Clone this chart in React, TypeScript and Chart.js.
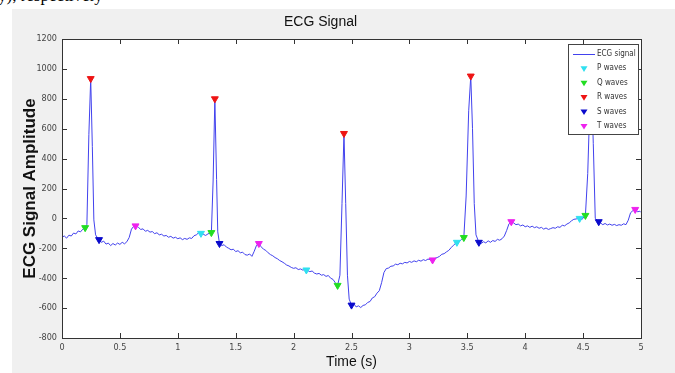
import React, { useEffect, useRef } from "react";
import { Chart, registerables } from "chart.js";

Chart.register(...registerables);

// ECG trace (time in s, amplitude)
const ecgTime = [
  0.00, 0.02, 0.04, 0.06, 0.08, 0.10, 0.12, 0.14, 0.16, 0.18, 0.20, 0.215, 0.232, 0.248, 0.262, 0.275, 0.29, 0.31, 0.32,
  0.34, 0.36, 0.38, 0.40, 0.42, 0.44, 0.46, 0.48, 0.50, 0.52, 0.54, 0.56, 0.58, 0.60, 0.62, 0.64, 0.66, 0.68, 0.70,
  0.72, 0.74, 0.76, 0.78, 0.80, 0.82, 0.84, 0.86, 0.88, 0.90, 0.92, 0.94, 0.96, 0.98, 1.00, 1.02, 1.04, 1.06, 1.08,
  1.10, 1.12, 1.14, 1.16, 1.18, 1.20, 1.22, 1.24, 1.26, 1.28, 1.29, 1.305, 1.32, 1.335, 1.345, 1.36, 1.38, 1.40,
  1.42, 1.44, 1.46, 1.48, 1.50, 1.52, 1.54, 1.56, 1.58, 1.60, 1.62, 1.64, 1.66, 1.68, 1.70, 1.72, 1.74, 1.76, 1.78,
  1.80, 1.82, 1.84, 1.86, 1.88, 1.90, 1.92, 1.94, 1.96, 1.98, 2.00, 2.02, 2.04, 2.06, 2.08, 2.10, 2.12, 2.14, 2.16,
  2.18, 2.20, 2.22, 2.24, 2.26, 2.28, 2.30, 2.32, 2.34, 2.36, 2.38, 2.40, 2.418, 2.435, 2.45, 2.465, 2.48, 2.50,
  2.52, 2.54, 2.56, 2.58, 2.60, 2.62, 2.64, 2.66, 2.68, 2.70, 2.72, 2.74, 2.76, 2.78, 2.80, 2.82, 2.84, 2.86, 2.88,
  2.90, 2.92, 2.94, 2.96, 2.98, 3.00, 3.02, 3.04, 3.06, 3.08, 3.10, 3.12, 3.14, 3.16, 3.18, 3.20, 3.22, 3.24, 3.26,
  3.28, 3.30, 3.32, 3.34, 3.36, 3.38, 3.40, 3.41, 3.43, 3.45, 3.47, 3.49, 3.512, 3.53, 3.545, 3.56, 3.575, 3.60,
  3.62, 3.64, 3.66, 3.68, 3.70, 3.72, 3.74, 3.76, 3.78, 3.80, 3.82, 3.84, 3.86, 3.88, 3.90, 3.92, 3.94, 3.96, 3.98,
  4.00, 4.02, 4.04, 4.06, 4.08, 4.10, 4.12, 4.14, 4.16, 4.18, 4.20, 4.22, 4.24, 4.26, 4.28, 4.30, 4.32, 4.34, 4.36,
  4.38, 4.40, 4.42, 4.44, 4.46, 4.47, 4.49, 4.51, 4.52, 4.54, 4.558, 4.572, 4.588, 4.605, 4.635, 4.65, 4.67, 4.69,
  4.71, 4.73, 4.75, 4.77, 4.79, 4.81, 4.83, 4.85, 4.87, 4.89, 4.91, 4.93, 4.95, 4.97, 4.99, 5.00,
];
const ecgAmp = [
  -125, -118, -132, -112, -118, -98, -104, -84, -90, -72, -62, -40, 560, 935, 480, -10, -110, -135, -142,
  -160, -152, -172, -165, -182, -168, -178, -165, -174, -160, -170, -156, -128, -72, -52, -48, -60, -74, -70,
  -86, -80, -92, -88, -102, -96, -110, -106, -118, -114, -126, -120, -132, -126, -136, -130, -142, -134, -140,
  -130, -134, -116, -110, -96, -100, -106, -114, -104, -96, -95, 250, 800, 260, -90, -168, -182, -176,
  -192, -200, -210, -206, -222, -216, -230, -226, -242, -246, -238, -254, -220, -180, -168, -190, -206, -214, -230,
  -242, -250, -262, -270, -282, -290, -300, -312, -318, -328, -334, -330, -342, -338, -346, -340, -348, -356, -352,
  -366, -372, -368, -380, -376, -388, -382, -400, -408, -430, -448, -380, 100, 568, 100, -380, -540, -580,
  -572, -592, -585, -596, -582, -578, -562, -556, -532, -524, -500, -484, -430, -362, -336, -332, -320, -318, -306,
  -310, -300, -304, -294, -298, -288, -294, -284, -290, -280, -286, -276, -282, -272, -276, -278, -268, -262, -254,
  -240, -236, -224, -214, -196, -180, -166, -160, -156, -140, -128, 150, 720, 952, 600, 100, -110, -160,
  -168, -156, -164, -150, -160, -148, -154, -140, -146, -136, -118, -80, -36, -22, -30, -42, -38, -50, -44,
  -56, -50, -60, -52, -62, -56, -66, -60, -72, -64, -74, -68, -62, -66, -56, -60, -46, -50, -38,
  -30, -16, -6, -4, 2, 0, -8, 14, 20, 300, 760, 900, 500, 0, -22, -30, -42, -34,
  -44, -38, -46, -40, -48, -42, -46, -36, -42, -12, 38, 52, 60, 44, 48, 40,
];

// Detected wave markers
const pTime = [1.20, 2.11, 3.41, 4.47];
const pAmp = [-100, -345, -160, 0];
const qTime = [0.20, 1.29, 2.38, 3.47, 4.52];
const qAmp = [-62, -95, -448, -128, 20];
const rTime = [0.248, 1.32, 2.435, 3.53, 4.572];
const rAmp = [935, 800, 568, 952, 900];
const sTime = [0.32, 1.36, 2.50, 3.60, 4.635];
const sAmp = [-142, -168, -580, -160, -22];
const tTime = [0.635, 1.70, 3.20, 3.88, 4.95];
const tAmp = [-50, -168, -278, -22, 60];

const legendLabels = ["ECG signal", "P waves", "Q waves", "R waves", "S waves", "T waves"];
const lineColor = "#4242ee";
const markerColors = ["#30e0f0", "#22dd22", "#ee1414", "#0a0acc", "#ee22ee"];

const smallFont = "'Liberation Sans Narrow', 'DejaVu Sans Condensed', 'Liberation Sans', Arial, sans-serif";
const mainFont = "'Liberation Sans', Arial, sans-serif";

const toPts = (xs: number[], ys: number[]) => xs.map((x, i) => ({ x, y: ys[i] }));

const drawDownTriangle = (ctx: CanvasRenderingContext2D, cx: number, cy: number, r: number, color: string) => {
  ctx.beginPath();
  ctx.moveTo(cx - r, cy - r * 0.6);
  ctx.lineTo(cx + r, cy - r * 0.6);
  ctx.lineTo(cx, cy + r);
  ctx.closePath();
  ctx.fillStyle = color;
  ctx.fill();
};

const plotBgPlugin = {
  id: "plotBg",
  beforeDraw(chart: any) {
    const { ctx, chartArea } = chart;
    ctx.save();
    ctx.fillStyle = "#ffffff";
    ctx.fillRect(chartArea.left, chartArea.top, chartArea.right - chartArea.left, chartArea.bottom - chartArea.top);
    ctx.restore();
  },
};

const framePlugin = {
  id: "frame",
  afterDatasetsDraw(chart: any) {
    const { ctx, chartArea } = chart;
    const { left, right, top, bottom } = chartArea;
    const xs = chart.scales.x;
    const ys = chart.scales.y;
    ctx.save();
    ctx.strokeStyle = "#333333";
    ctx.lineWidth = 1;
    ctx.strokeRect(Math.round(left) + 0.5, Math.round(top) + 0.5, Math.round(right - left), Math.round(bottom - top));
    ctx.beginPath();
    const tl = 5;
    xs.ticks.forEach((t: any) => {
      const px = Math.round(xs.getPixelForValue(t.value)) + 0.5;
      ctx.moveTo(px, bottom);
      ctx.lineTo(px, bottom - tl);
      ctx.moveTo(px, top);
      ctx.lineTo(px, top + tl);
    });
    ys.ticks.forEach((t: any) => {
      const py = Math.round(ys.getPixelForValue(t.value)) + 0.5;
      ctx.moveTo(left, py);
      ctx.lineTo(left + tl, py);
      ctx.moveTo(right, py);
      ctx.lineTo(right - tl, py);
    });
    ctx.stroke();
    ctx.restore();
  },
};

const legendPlugin = {
  id: "ecgLegend",
  afterDatasetsDraw(chart: any) {
    const { ctx, chartArea } = chart;
    const boxRight = Math.round(chartArea.right) - 3;
    const boxLeft = boxRight - 70;
    const boxTop = Math.round(chartArea.top) + 5;
    const boxH = 90;
    ctx.save();
    ctx.fillStyle = "#ffffff";
    ctx.fillRect(boxLeft, boxTop, boxRight - boxLeft, boxH);
    ctx.strokeStyle = "#444444";
    ctx.lineWidth = 1;
    ctx.strokeRect(boxLeft + 0.5, boxTop + 0.5, boxRight - boxLeft, boxH);
    ctx.font = `8px ${smallFont}`;
    ctx.textBaseline = "middle";
    ctx.textAlign = "left";
    legendLabels.forEach((label, i) => {
      const cy = boxTop + 10 + i * 14.4;
      const cx = boxLeft + 16;
      if (i === 0) {
        ctx.strokeStyle = lineColor;
        ctx.beginPath();
        ctx.moveTo(boxLeft + 5, Math.round(cy) + 0.5);
        ctx.lineTo(boxLeft + 27, Math.round(cy) + 0.5);
        ctx.stroke();
      } else {
        drawDownTriangle(ctx, cx, cy, 3.5, markerColors[i - 1]);
      }
      ctx.fillStyle = "#333333";
      ctx.fillText(label, boxLeft + 29, cy);
    });
    ctx.restore();
  },
};

export default function App() {
  const canvasRef = useRef<HTMLCanvasElement>(null);

  useEffect(() => {
    const canvas = canvasRef.current;
    if (!canvas) return;
    const markerSet = (label: string, xs: number[], ys: number[], color: string) => ({
      label,
      data: toPts(xs, ys),
      showLine: false,
      pointStyle: "triangle",
      rotation: 180,
      pointRadius: 4,
      pointBackgroundColor: color,
      pointBorderColor: color,
      pointBorderWidth: 1,
      borderColor: color,
      backgroundColor: color,
      order: 1,
    });
    const chart = new Chart(canvas, {
      type: "line",
      data: {
        datasets: [
          {
            label: "ECG signal",
            data: toPts(ecgTime, ecgAmp),
            borderColor: lineColor,
            borderWidth: 1,
            pointRadius: 0,
            tension: 0,
            fill: false,
            order: 2,
          } as any,
          markerSet("P waves", pTime, pAmp, markerColors[0]),
          markerSet("Q waves", qTime, qAmp, markerColors[1]),
          markerSet("R waves", rTime, rAmp, markerColors[2]),
          markerSet("S waves", sTime, sAmp, markerColors[3]),
          markerSet("T waves", tTime, tAmp, markerColors[4]),
        ],
      },
      options: {
        responsive: false,
        animation: false,
        events: [],
        layout: { padding: { top: 8, right: 34, bottom: 0, left: 0 } },
        plugins: {
          legend: { display: false },
          tooltip: { enabled: false },
          title: {
            display: true,
            text: "ECG Signal",
            color: "#111111",
            font: { family: mainFont, size: 14, weight: "normal" },
            padding: { top: 6, bottom: 8.2 },
          },
        },
        scales: {
          x: {
            type: "linear",
            min: 0,
            max: 5,
            grid: { display: false, drawTicks: false },
            border: { display: false },
            ticks: {
              stepSize: 0.5,
              padding: 4,
              color: "#444444",
              font: { family: smallFont, size: 9 },
              maxRotation: 0,
              autoSkip: false,
              callback: (v: any) => String(v),
            },
            title: {
              display: true,
              text: "Time (s)",
              color: "#111111",
              font: { family: mainFont, size: 14 },
              padding: { top: 0, bottom: 2.6 },
            },
            afterFit: (s: any) => {
              s.height = 35;
            },
          },
          y: {
            type: "linear",
            min: -800,
            max: 1200,
            grid: { display: false, drawTicks: false },
            border: { display: false },
            ticks: {
              stepSize: 200,
              padding: 5,
              color: "#444444",
              font: { family: smallFont, size: 9 },
              callback: (v: any) => String(v),
            },
            title: {
              display: true,
              text: "ECG Signal Amplitude",
              color: "#111111",
              font: { family: mainFont, size: 17, weight: "bold" },
              padding: { top: 19.8, bottom: 0 },
            },
            afterFit: (s: any) => {
              s.width = 62;
            },
          },
        },
      } as any,
      plugins: [plotBgPlugin, framePlugin, legendPlugin],
    });
    return () => chart.destroy();
  }, []);

  return (
    <div style={{ position: "fixed", left: 0, top: 0, width: 675, height: 373, background: "#ffffff", overflow: "hidden" }}>
      <div
        style={{
          position: "absolute",
          left: -2,
          top: -14,
          fontFamily: "'Liberation Serif', 'Times New Roman', serif",
          fontSize: 17,
          color: "#000",
          whiteSpace: "nowrap",
        }}
      >
        y), respectively
      </div>
      <div style={{ position: "absolute", left: 12, top: 9, right: 0, bottom: 0, background: "#f0f0f0" }} />
      <canvas
        ref={canvasRef}
        width={675}
        height={373}
        style={{ position: "absolute", left: 0, top: 0, width: 675, height: 373 }}
      />
    </div>
  );
}
